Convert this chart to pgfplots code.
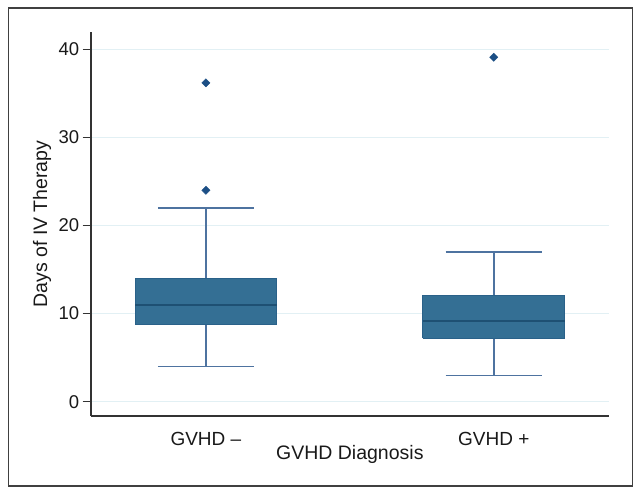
\documentclass[border=0pt]{standalone}
\usepackage{fontspec}
\setmainfont{Liberation Sans}
\usepackage{pgfplots}
\pgfplotsset{compat=1.18}
\definecolor{boxfill}{HTML}{346F94}
\definecolor{boxedge}{HTML}{2A6189}
\definecolor{medcol}{HTML}{1E5073}
\definecolor{whiskcol}{HTML}{4E73A0}
\definecolor{outcol}{HTML}{1C4F85}
\definecolor{gridcol}{HTML}{E2F0F4}
\definecolor{axcol}{HTML}{333333}
\pgfplotsset{
  whisk/.style={draw=whiskcol, line width=1.5bp},
  boxsty/.style={fill=boxfill, draw=boxedge, line width=1bp},
  medsty/.style={draw=medcol, line width=1.6bp},
  outsty/.style={only marks, mark=square*, mark size=2.9bp, mark options={rotate=45, fill=outcol, draw=outcol, line width=0.4bp}},
}
\begin{document}
\begin{tikzpicture}
\useasboundingbox (0bp,0bp) rectangle (641bp,495bp);
\draw[line width=1.6bp, color=black!75] (8.3bp,9bp) rectangle (632.5bp,486.7bp);
\begin{axis}[
  at={(90.7bp,79.3bp)}, anchor=south west,
  scale only axis,
  width=518.3bp, height=383.4bp,
  xmin=-0.4, xmax=1.4,
  ymin=-1.59, ymax=41.93,
  axis x line=bottom, axis y line=left,
  axis line style={-, color=axcol, line width=1.6bp},
  xtick={0,1}, xticklabels={GVHD –, GVHD +},
  major x tick style={draw=none},
  ytick={0,10,20,30,40},
  tick align=outside,
  major tick length=8bp,
  major y tick style={color=axcol, line width=1.2bp},
  ymajorgrids,
  major grid style={color=gridcol, line width=1bp},
  /pgf/number format/assume math mode=true,
  tick label style={font=\fontsize{19bp}{22bp}\selectfont, color=black!90},
  xticklabel style={anchor=base, yshift=-22bp},
  yticklabel style={font=\fontsize{18.5bp}{22bp}\selectfont},
  xlabel={GVHD Diagnosis},
  ylabel={Days of IV Therapy},
  every axis x label/.style={at={(axis description cs:0.5,-0.1155)}, anchor=base, font=\fontsize{19.5bp}{23bp}\selectfont, color=black!90},
  every axis y label/.style={at={(axis description cs:-0.0843,0.5)}, anchor=base, rotate=90, font=\fontsize{19.5bp}{23bp}\selectfont, color=black!90},
]
% GVHD - : whiskers 4 / 22, quartiles 8.75 / 14, median 11, outliers 24, 36.2
\addplot[whisk] coordinates {(0,4) (0,8.75)};
\addplot[whisk] coordinates {(0,14) (0,22)};
\addplot[whisk] coordinates {(-0.167,4) (0.167,4)};
\addplot[whisk] coordinates {(-0.167,22) (0.167,22)};
\addplot[boxsty] coordinates {(-0.246,8.75) (0.246,8.75) (0.246,14) (-0.246,14) (-0.246,8.75)};
\addplot[medsty] coordinates {(-0.246,11) (0.246,11)};
\addplot[outsty] coordinates {(0,24) (0,36.2)};
% GVHD + : whiskers 3 / 17, quartiles 7.2 / 12, median 9.15, outlier 39.1
\addplot[whisk] coordinates {(1,3) (1,7.2)};
\addplot[whisk] coordinates {(1,12) (1,17)};
\addplot[whisk] coordinates {(0.833,3) (1.167,3)};
\addplot[whisk] coordinates {(0.833,17) (1.167,17)};
\addplot[boxsty] coordinates {(0.754,7.2) (1.246,7.2) (1.246,12) (0.754,12) (0.754,7.2)};
\addplot[medsty] coordinates {(0.754,9.15) (1.246,9.15)};
\addplot[outsty] coordinates {(1,39.1)};
\end{axis}
\end{tikzpicture}
\end{document}
